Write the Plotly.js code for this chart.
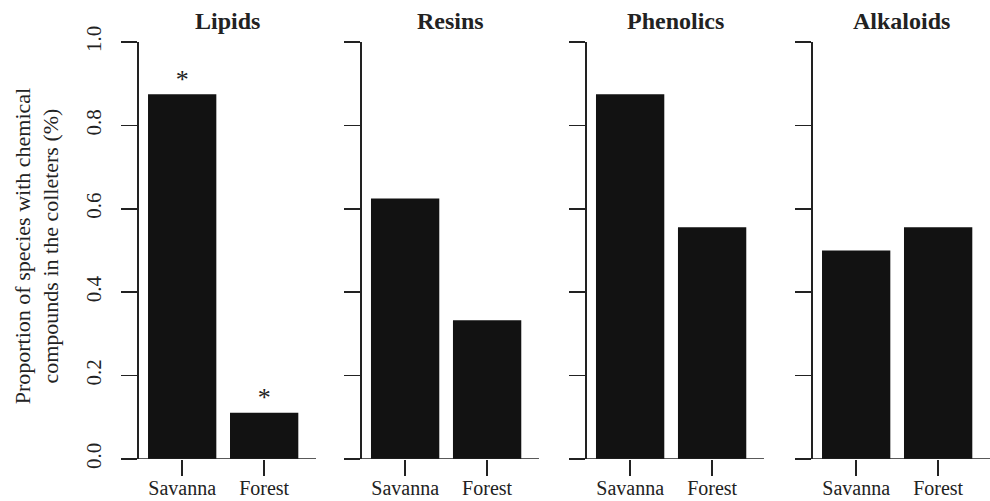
<!DOCTYPE html>
<html><head><meta charset="utf-8">
<script src="https://cdn.plot.ly/plotly-3.0.1.min.js"></script>
<style>html,body{margin:0;padding:0;background:#fff}#chart{width:990px;height:501px}</style>
</head><body><div id="chart"></div>
<script>
const panels = ['Lipids', 'Resins', 'Phenolics', 'Alkaloids'];
const habitats = ['Savanna', 'Forest'];
const habitatPos = [0.7, 1.9];
const savanna = [0.875, 0.625, 0.875, 0.5];
const forest = [0.111, 0.333, 0.556, 0.556];
const significance = [['*', '*'], ['', ''], ['', ''], ['', '']];
const yTicks = [0, 0.2, 0.4, 0.6, 0.8, 1.0];
const yTickText = ['0.0', '0.2', '0.4', '0.6', '0.8', '1.0'];

const FONT = 'Liberation Serif, DejaVu Serif, serif';
const INK = '#222222';
const domains = [[0, 0.208], [0.262, 0.470], [0.5264, 0.7344], [0.792, 1.0]];

const data = [];
const layout = {
  width: 990, height: 501,
  margin: {l: 139, r: 0, t: 42, b: 42},
  paper_bgcolor: '#fff', plot_bgcolor: 'rgba(0,0,0,0)',
  showlegend: false,
  font: {family: FONT, color: INK, size: 21},
  shapes: [], annotations: []
};

panels.forEach((name, i) => {
  const n = i === 0 ? '' : String(i + 1);
  const xa = 'x' + n, ya = 'y' + n;
  const vals = [savanna[i], forest[i]];
  data.push({
    type: 'bar', x: habitatPos, y: vals, width: 1.0,
    xaxis: xa, yaxis: ya,
    marker: {color: '#121212', line: {width: 0}},
    hoverinfo: 'skip'
  });
  data.push({
    type: 'scatter', mode: 'text', x: habitatPos, y: vals,
    text: significance[i], textposition: 'top center',
    textfont: {family: FONT, size: 26, color: INK},
    xaxis: xa, yaxis: ya, cliponaxis: false, hoverinfo: 'skip'
  });
  layout['xaxis' + n] = {
    domain: domains[i], anchor: ya, range: [0.068, 2.659],
    showgrid: false, zeroline: false, showline: false,
    tickvals: habitatPos, ticktext: habitats,
    ticks: 'outside', ticklen: 16, tickwidth: 1.6, tickcolor: INK,
    ticklabelstandoff: -5,
    tickfont: {family: FONT, size: 20, color: INK}, fixedrange: true
  };
  layout['yaxis' + n] = {
    domain: [0, 1], anchor: xa, range: [0, 1],
    showgrid: false, zeroline: false, showline: true, linecolor: INK, linewidth: 1.6,
    tickvals: yTicks, ticktext: yTickText, tickangle: -90,
    ticks: 'outside', ticklen: 16, tickwidth: 1.6, tickcolor: INK,
    ticklabelstandoff: 12,
    showticklabels: i === 0,
    tickfont: {family: FONT, size: 21, color: INK}, fixedrange: true
  };
  layout.shapes.push({
    type: 'line', xref: xa + ' domain', yref: ya,
    x0: -16 / 177, x1: 1, y0: 0, y1: 0,
    line: {color: INK, width: 1.6}
  });
  layout.annotations.push({
    xref: xa + ' domain', yref: 'paper', x: 0.5, y: 1, yshift: 21,
    xanchor: 'center', yanchor: 'middle', showarrow: false,
    text: '<b>' + name + '</b>', font: {family: FONT, size: 24, color: INK}
  });
});

layout.annotations.push({
  xref: 'paper', yref: 'paper', x: -0.1199, y: 0.51,
  xanchor: 'center', yanchor: 'middle', showarrow: false, textangle: -90,
  text: 'Proportion of species with chemical<br>compounds in the colleters (%)',
  font: {family: FONT, size: 22, color: INK}
});

Plotly.newPlot('chart', data, layout, {displayModeBar: false, staticPlot: true});
</script>
</body></html>
